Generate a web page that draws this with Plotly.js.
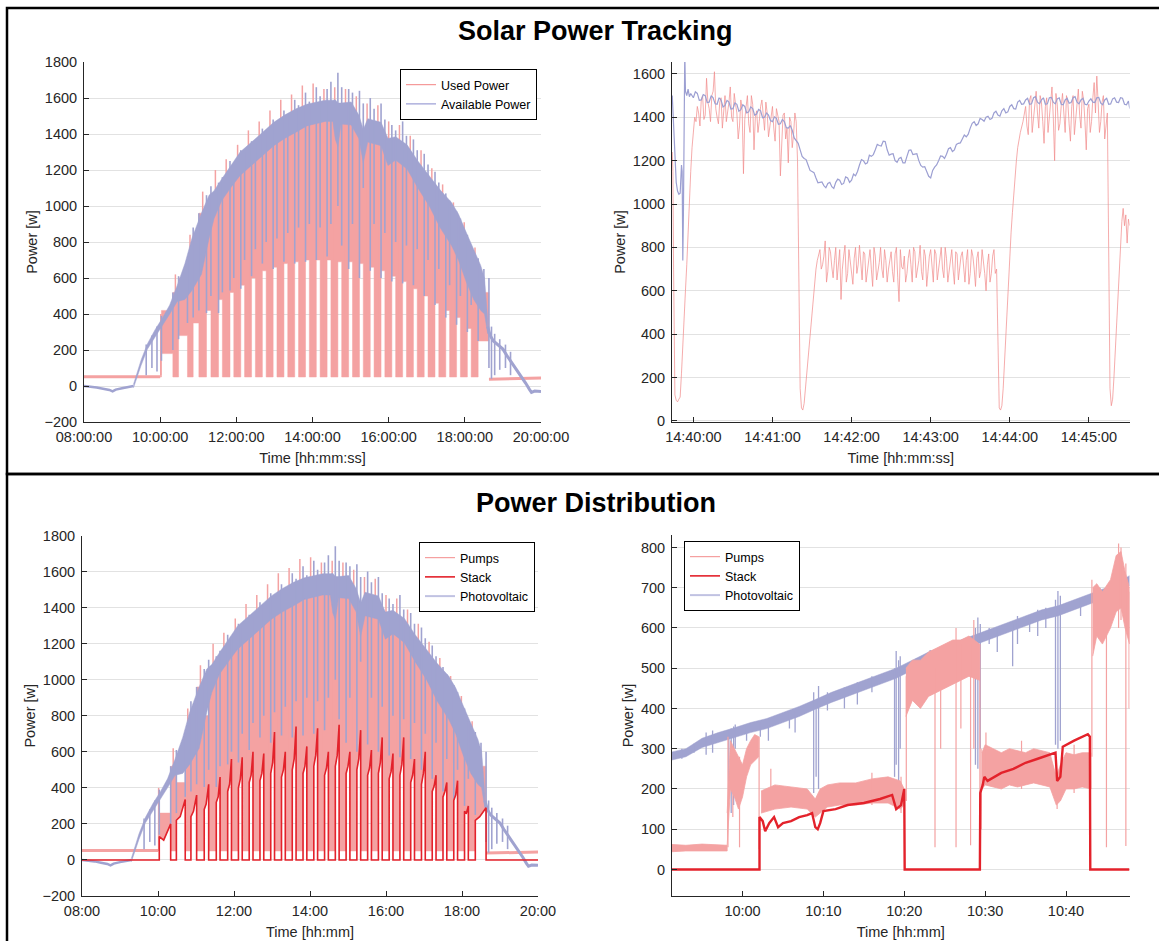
<!DOCTYPE html>
<html>
<head>
<meta charset="utf-8">
<script src="https://cdn.plot.ly/plotly-3.0.1.min.js"></script>
<style>
html,body{margin:0;padding:0;background:#ffffff;}
#chart{width:1159px;height:941px;}
</style>
</head>
<body>
<div id="chart"></div>
<script>
// ======================= DATA =======================
// ---- Panels 1 & 3 (whole day, 08:00 - 20:00) ----
const dayStart = '08:00', dayEnd = '20:00';
const pumpsActiveStart = '10:00';
const pumpFloorW = 50;
const pumpsIdleBefore = [['08:00', 52], ['10:00', 52]];
const pumpsIdleAfter = [['18:38', 38], ['20:00', 44]];

// stack on / knee / off times of every pump cycle
const cycOn  = ['10:02','10:29','10:52','11:13','11:32','11:50','12:07','12:24','12:41','12:58','13:15','13:32','13:49','14:06','14:23','14:40','14:57','15:14','15:31','15:48','16:05','16:22','16:39','16:56','17:13','17:30','17:47','18:04','18:21'];
const cycMid = ['10:09','10:35','10:56','11:16','11:35','11:53','12:10','12:27','12:44','13:01','13:18','13:35','13:52','14:09','14:26','14:43','15:00','15:17','15:34','15:51','16:08','16:25','16:42','16:59','17:16','17:33','17:50','18:07','18:28'];
const cycOff = ['10:20','10:43','11:01','11:20','11:38','11:56','12:13','12:30','12:47','13:04','13:21','13:38','13:55','14:12','14:29','14:46','15:03','15:20','15:37','15:54','16:11','16:28','16:45','17:02','17:19','17:36','17:53','18:10','18:38'];
// pump power tops in the pumping columns (before each stack-on) and during stack-on
const colTop     = [340,520,720,960,1070,1140,1220,1290,1350,1390,1430,1480,1510,1530,1540,1520,1540,1480,1420,1400,1320,1300,1260,1180,1090,1000,900,780,650];
const usedOnTop  = [420,600,850,1020,1100,1170,1250,1320,1370,1410,1450,1490,1520,1540,1540,1480,1520,1420,1420,1370,1310,1280,1220,1130,1050,960,850,720,520];
const usedGapTop = [180,280,350,420,480,520,560,600,640,660,680,690,700,700,700,690,690,680,660,640,610,580,540,500,460,420,380,320,250];
const pumpOnTop  = [260,430,600,800,1100,1170,1250,1320,1370,1410,1450,1490,1520,1540,1540,1480,1520,1420,1420,1370,1310,1280,1220,1130,1050,960,850,720,520];
// stack power: level at start, at knee, at end of each on-period
const stackStart = [130,220,240,280,320,380,400,430,440,480,460,500,480,520,470,520,480,500,470,480,450,470,430,420,380,350,330,270,220];
const stackMid   = [110,240,270,310,350,420,450,470,480,540,500,560,520,580,510,580,520,560,510,540,490,530,470,480,410,380,360,260,240];
const stackPeak  = [200,335,360,420,460,560,570,600,590,710,600,740,630,730,600,750,600,720,610,680,590,680,560,600,470,430,440,300,290];
// upward pump spikes (time, top)
const pumpSpikes = [['10:01',400],['10:24',620],['10:47',840],['11:07',1080],['11:27',1200],['11:44',1260],['12:02',1340],['12:19',1420],['12:36',1470],['12:53',1530],['13:10',1590],['13:27',1620],['13:44',1670],['14:01',1680],['14:18',1650],['14:35',1660],['14:52',1650],['15:09',1610],['15:26',1570],['15:43',1560],['16:00',1470],['16:17',1450],['16:34',1390],['16:51',1310],['17:08',1210],['17:25',1120],['17:42',1020],['17:59',910],['18:16',770]];
// photovoltaic / available power: band [time, low, high]
const pvBand = [['09:18',-10,10],['09:30',115,145],['09:40',205,235],['09:52',277,313],['10:04',340,380],['10:15',400,450],['10:27',470,560],['10:39',480,680],['10:50',530,820],['11:05',620,960],['11:17',820,1060],['11:25',930,1085],['11:37',1030,1150],['11:52',1105,1225],['12:06',1170,1300],['12:24',1225,1355],['12:41',1280,1410],['12:59',1335,1465],['13:16',1375,1505],['13:34',1410,1540],['13:51',1445,1565],['14:09',1460,1578],['14:20',1470,1588],['14:32',1470,1588],['14:36',1370,1590],['14:40',1330,1572],['14:45',1455,1572],['15:01',1450,1578],['15:13',1375,1505],['15:20',1240,1425],['15:27',1355,1485],['15:48',1335,1465],['15:59',1225,1375],['16:11',1255,1385],['16:29',1205,1340],['16:46',1100,1250],['17:04',1000,1170],['17:21',880,1090],['17:39',780,1020],['17:50',700,955],['18:02',580,855],['18:14',480,760],['18:25',420,670],['18:31',400,600],['18:36',290,370]];
const pvMorning = [['08:00',0],['08:10',-3],['08:20',-8],['08:30',-15],['08:40',-22],['08:45',-30],['08:50',-20],['09:00',-12],['09:10',-5],['09:18',0]];
const pvEvening = [['18:36',330],['18:40',280],['18:45',250],['18:50',235],['19:00',205],['19:06',170],['19:15',125],['19:22',90],['19:30',45],['19:36',15],['19:42',-20],['19:45',-35],['19:50',-28],['20:00',-30]];
// PV spikes [time, low, high]
const pvSpikes = [['09:38',60,230],['09:47',100,280],['09:55',80,330],['10:02',140,390],['10:20',200,520],['10:29',260,610],['10:43',350,700],['10:52',380,880],['11:01',420,960],['11:13',405,1060],['11:20',500,1110],['11:32',405,1130],['11:38',520,1160],['11:50',530,1250],['11:56',600,1240],['12:07',540,1310],['12:13',700,1300],['12:24',610,1360],['12:30',760,1350],['12:41',680,1430],['12:47',800,1420],['12:58',650,1480],['13:04',820,1460],['13:15',690,1530],['13:21',850,1510],['13:32',680,1590],['13:38',880,1560],['13:49',690,1630],['13:55',900,1580],['14:06',700,1660],['14:12',880,1610],['14:23',720,1650],['14:29',900,1690],['14:40',1000,1740],['14:46',780,1660],['14:57',650,1650],['15:03',900,1630],['15:14',600,1640],['15:20',1100,1570],['15:31',640,1600],['15:37',900,1540],['15:48',600,1570],['15:54',850,1480],['16:05',580,1450],['16:11',800,1420],['16:22',570,1470],['16:28',780,1390],['16:39',560,1370],['16:45',760,1310],['16:56',500,1290],['17:02',700,1230],['17:13',450,1190],['17:19',650,1130],['17:30',380,1070],['17:36',560,1030],['17:47',340,970],['17:53',500,930],['18:04',300,840],['18:10',450,770],['18:21',250,710],['18:30',480,650],['18:38',100,600],['18:42',40,330],['18:47',60,290],['18:55',90,260],['19:04',100,230],['19:12',60,190]];

// ---- Panel 2 (14:39:44 - 14:45:31), time in s after 14:40:00 ----
const zoomUsed = [[-16,1240],[-15.5,1150],[-15,700],[-14.5,300],[-14,120],[-13,95],[-12,88],[-11,100],[-10,110],[-9,220],[-8,370],[-7,480],[-6,600],[-5,720],[-4,880],[-3,1010],[-2,1150],[-1,1260],[0,1350],[1,1400],[2,1380],[3,1450],
[4,1420],[6,1480],[8,1390],[10,1580],[12,1440],[14,1500],[16,1610],[18,1400],[20,1470],[22,1350],[24,1500],[26,1420],[28,1540],[30,1380],[32,1460],[34,1300],[36,1480],[38,1140],[40,1450],[42,1370],[44,1500],[46,1250],[48,1430],[50,1380],[52,1480],[54,1340],[56,1420],[58,1360],[60,1450],[62,1290],[64,1400],[66,1130],[68,1410],[70,1300],[72,1190],[74,1380],[76,1320],[78,1380],
[79,1200],[80,700],[81,150],[82,60],[83,50],[84,80],[85,150],[86,230],[87,300],[88,380],[89,450],[90,520],[91,590],[92,650],[93,700],[94,740],[95,770],
[96,790],[98,720],[100,830],[102,690],[104,780],[106,660],[108,800],[110,720],[112,560],[114,760],[116,640],[118,790],[120,700],[122,750],[124,680],[126,810],[128,650],[130,770],[132,700],[134,790],[136,620],[138,760],[140,690],[142,800],[144,660],[146,740],[148,700],[150,780],[152,640],[154,800],[156,550],[158,710],[160,760],[162,680],[164,790],[166,640],[168,780],[170,700],[172,810],[174,650],[176,760],[178,690],[180,790],[182,640],[184,770],[186,700],[188,800],[190,660],[192,750],[194,690],[196,790],[198,630],[200,770],[202,700],[204,780],[206,640],[208,790],[210,680],[212,760],[214,620],[216,780],[218,690],[220,740],[222,600],[224,770],[226,680],[228,790],[230,700],
[231,300],[232,60],[233,50],[234,70],[235,150],[236,280],[237,400],[238,520],[239,630],[240,760],[241,870],[242,960],[243,1050],[244,1130],[245,1200],[246,1260],[247,1300],[248,1330],
[250,1380],[252,1450],[254,1320],[256,1500],[258,1400],[260,1520],[262,1350],[264,1470],[266,1280],[268,1490],[270,1390],[272,1540],[274,1200],[276,1460],[278,1370],[280,1510],[282,1330],[284,1470],[286,1290],[288,1500],[290,1400],[292,1530],[294,1350],[296,1480],[298,1250],[300,1460],[302,1380],[304,1560],[306,1590],[308,1330],[310,1470],[312,1300],[314,1420],
[315,800],[316,150],[317,70],[318,100],[319,200],[320,320],[321,430],[322,560],[323,690],[324,800],[325,920],[326,980],[327,900],[328,950],[329,820],[330,930],[331,900]];
// the in-between (odd second) samples of the noisy used power
const zoomUsedOdd = [[5,1360],[7,1500],[9,1410],[11,1470],[13,1380],[15,1520],[17,1440],[19,1370],[21,1490],[23,1420],[25,1380],[27,1470],[29,1400],[31,1510],[33,1420],[35,1360],[37,1440],[39,1390],[41,1500],[43,1330],[45,1460],[47,1400],[49,1330],[51,1450],[53,1390],[55,1470],[57,1310],[59,1400],[61,1350],[63,1440],[65,1380],[67,1300],[69,1420],[71,1350],[73,1400],[75,1260],[77,1420],
[97,700],[99,760],[101,640],[103,800],[105,710],[107,740],[109,650],[111,790],[113,700],[115,810],[117,680],[119,740],[121,630],[123,800],[125,720],[127,700],[129,780],[131,640],[133,740],[135,700],[137,800],[139,650],[141,730],[143,700],[145,790],[147,640],[149,750],[151,690],[153,770],[155,660],[157,790],[159,700],[161,640],[163,750],[165,720],[167,800],[169,660],[171,740],[173,690],[175,790],[177,620],[179,760],[181,700],[183,790],[185,650],[187,750],[189,700],[191,800],[193,640],[195,730],[197,700],[199,780],[201,650],[203,760],[205,690],[207,740],[209,630],[211,790],[213,700],[215,750],[217,660],[219,790],[221,680],[223,720],[225,640],[227,760],[229,680],
[251,1420],[253,1360],[255,1480],[257,1330],[259,1460],[261,1420],[263,1500],[265,1380],[267,1450],[269,1330],[271,1470],[273,1400],[275,1510],[277,1340],[279,1450],[281,1420],[283,1500],[285,1370],[287,1450],[289,1320],[291,1480],[293,1410],[295,1520],[297,1380],[299,1440],[301,1330],[303,1490],[305,1420],[307,1470],[309,1380],[311,1500],[313,1360]];
const zoomAvail = [[-16,1500],[-15.5,1420],[-15,1330],[-14,1200],[-13,1100],[-12,1060],[-11,1045],[-10,1050],[-9,1180],[-8.5,1150],[-8,740],[-7.5,980],[-7,1250],[-6.5,1700],[-6,1520],[-5,1500],[-4,1530],[-3,1495],[-2,1510],
[0,1490],[3,1510],[6,1480],[9,1500],[12,1470],[15,1490],[18,1460],[21,1480],[24,1455],[27,1470],[30,1440],[33,1460],[36,1435],[39,1450],[42,1425],[45,1440],[48,1415],[51,1430],[54,1400],[57,1410],[60,1380],[63,1395],[66,1370],[69,1380],[72,1350],[75,1340],[78,1290],[81,1250],[84,1210],[87,1180],[90,1150],[93,1120],[96,1100],[99,1085],[102,1095],[105,1080],[108,1100],[111,1110],[114,1095],[117,1120],[120,1110],[123,1130],[126,1180],[129,1200],[132,1190],[135,1220],[138,1250],[141,1270],[144,1290],[147,1250],[150,1230],[153,1200],[156,1210],[159,1190],[162,1220],[165,1250],[168,1230],[171,1200],[174,1170],[177,1150],[180,1120],[183,1170],[186,1200],[189,1220],[192,1230],[195,1260],[198,1250],[201,1280],[204,1300],[207,1310],[210,1350],[213,1380],[216,1370],[219,1390],[222,1400],[225,1390],[228,1420],[231,1410],[234,1430],[237,1420],[240,1450],[243,1440],[246,1470],[249,1460],[252,1480],[255,1460],[258,1490],[261,1470],[264,1480],[267,1460],[270,1490],[273,1470],[276,1485],[279,1460],[282,1480],[285,1465],[288,1490],[291,1470],[294,1480],[297,1460],[300,1475],[303,1470],[306,1490],[309,1465],[312,1480],[315,1460],[318,1485],[321,1470],[324,1490],[327,1460],[330,1475],[331,1440]];
const zoomAvailMid = [[1.5,1518],[4.5,1478],[7.5,1505],[10.5,1468],[13.5,1500],[16.5,1462],[19.5,1490],[22.5,1448],[25.5,1478],[28.5,1438],[31.5,1466],[34.5,1428],[37.5,1458],[40.5,1420],[43.5,1448],[46.5,1410],[49.5,1436],[52.5,1398],[55.5,1420],[58.5,1385],[61.5,1402],[64.5,1368],[67.5,1390],[70.5,1352],[73.5,1362],[76.5,1305],[79.5,1280],[82.5,1220],[85.5,1205],[88.5,1155],[91.5,1145],[94.5,1098],[97.5,1102],[100.5,1075],[103.5,1100],[106.5,1072],[109.5,1115],[112.5,1090],[115.5,1125],[118.5,1100],[121.5,1138],[124.5,1150],[127.5,1205],[130.5,1185],[133.5,1225],[136.5,1228],[139.5,1275],[142.5,1268],[145.5,1288],[148.5,1225],[151.5,1232],[154.5,1192],[157.5,1215],[160.5,1190],[163.5,1248],[166.5,1228],[169.5,1232],[172.5,1178],[175.5,1172],[178.5,1128],[181.5,1155],[184.5,1180],[187.5,1222],[190.5,1210],[193.5,1255],[196.5,1242],[199.5,1275],[202.5,1282],[205.5,1318],[208.5,1322],[211.5,1372],[214.5,1362],[217.5,1395],[220.5,1382],[223.5,1405],[226.5,1395],[229.5,1428],[232.5,1405],[235.5,1440],[238.5,1425],[241.5,1458],[244.5,1438],[247.5,1478],[250.5,1462],[253.5,1488],[256.5,1462],[259.5,1495],[262.5,1462],[265.5,1490],[268.5,1462],[271.5,1492],[274.5,1462],[277.5,1490],[280.5,1458],[283.5,1488],[286.5,1468],[289.5,1495],[292.5,1462],[295.5,1488],[298.5,1458],[301.5,1485],[304.5,1468],[307.5,1492],[310.5,1458],[313.5,1488],[316.5,1462],[319.5,1490],[322.5,1468],[325.5,1488],[328.5,1458]];

// ---- Panel 4 (09:51 - 10:48), time in min after 10:00 ----
const z4Pv = [[-8.72,272,292],[-7,280,300],[-5,303,326],[-3,315,340],[-1,328,352],[1,340,365],[3,350,375],[5,365,390],[7,380,405],[9,398,422],[11,415,440],[13,430,455],[15,445,470],[17,460,485],[19,475,500],[21,495,520],[23,515,540],[25,530,555],[27,545,570],[29,560,585],[31,575,600],[33,590,615],[35,605,630],[37,620,645],[39,630,655],[41,645,670],[43,660,685],[45,675,700],[47,695,720],[47.85,705,730]];
const z4PvSpikes = [[-7.5,275,300],[-6,290,312],[-4.5,285,340],[-3.7,290,345],[-1.7,175,345],[-1.4,140,350],[-1.1,160,355],[-0.9,300,360],[0.5,320,360],[2.2,330,365],[3.2,320,372],[5.8,350,392],[6.5,340,395],[8.8,190,440],[9.1,230,420],[9.4,200,456],[10.5,395,440],[12.6,400,452],[14.2,410,465],[16,440,480],[18.8,230,500],[19.0,260,543],[19.3,220,520],[19.5,300,530],[21.5,480,525],[23.2,500,545],[24.5,490,550],[25.6,515,560],[26.8,500,570],[28.8,260,600],[29.1,250,626],[29.4,300,610],[30.5,560,600],[31.5,540,600],[33.4,505,610],[34.0,560,630],[35.5,590,632],[36.5,580,645],[37.5,600,650],[38.7,310,670],[39.0,300,692],[39.3,320,680],[41.8,630,672],[44.2,640,700],[45.5,660,705],[46.5,670,712]];
const z4PumpsIdle   = [[-8.72,44,62],[-7,46,60],[-5,45,63],[-3,46,60],[-1.9,46,60]];
const z4PumpsRise   = [[-1.9,60,140],[-1.5,200,320],[-1.0,180,300],[-0.5,150,280],[0,180,260],[0.5,230,300],[1.0,260,320],[1.5,270,335],[2.0,280,330]];
const z4PumpsStack1 = [[2.3,140,195],[4,150,210],[6,155,205],[8,150,200],[9,130,175],[9.6,140,200],[10.5,155,210],[12,160,215],[14,160,215],[16,165,225],[18,165,230],[19.5,150,220],[20.0,160,200]];
const z4PumpsSolar1 = [[20.2,380,500],[21,420,520],[22,400,520],[23,430,540],[24,440,550],[25,450,560],[26,460,570],[27,470,570],[28,480,580],[29.3,470,560]];
const z4PumpsStack2 = [[29.6,200,290],[30,210,310],[31,205,300],[32,200,290],[33,210,300],[34,205,295],[35,210,290],[36,215,300],[37,210,295],[38,205,290],[38.8,160,230],[39.3,170,260],[40,200,290],[41,200,285],[42,205,290],[43.1,200,290]];
const z4PumpsSolar2 = [[43.3,530,700],[43.8,580,710],[44.5,560,690],[45.5,600,720],[46.2,640,780],[46.8,650,790],[47.3,600,740],[47.85,560,700]];
const z4PumpSpikes = [[-1.8,55,330],[-1.2,130,300],[-0.37,55,280],[2.05,50,330],[3.5,150,250],[16,160,240],[19.6,140,230],[20.25,170,480],[23.8,55,500],[24.5,300,520],[26.4,55,600],[27.0,350,560],[28.2,60,560],[28.6,300,620],[29.35,70,560],[29.5,100,300],[30.1,220,340],[34.5,200,320],[38.9,150,220],[41,190,310],[43.2,280,720],[45.0,55,700],[46.5,600,810],[46.8,620,800],[47.4,58,760],[47.8,400,690]];
const z4Stack = [[-8.72,0],[2.1,0],[2.1,130],[2.5,120],[2.8,95],[3.3,115],[3.9,130],[4.4,105],[5,115],[6,120],[7,130],[8,135],[8.6,140],[9.0,105],[9.3,100],[9.6,115],[10.0,145],[11.5,150],[13,160],[15,165],[17,175],[18.5,185],[19.0,150],[19.6,160],[20.0,200],[20.05,0],[29.35,0],[29.4,190],[29.7,210],[29.9,230],[30.3,220],[32,240],[33.5,250],[35,265],[36.5,275],[38,285],[38.7,290],[38.9,220],[39.3,230],[39.6,305],[41,320],[42.7,336],[42.95,330],[43.0,0],[47.85,0]];

// ---- texts ----
const titles = ['Solar Power Tracking', 'Power Distribution'];
const xTitles = ['Time [hh:mm:ss]', 'Time [hh:mm:ss]', 'Time [hh:mm]', 'Time [hh:mm]'];
const yTitle = 'Power [w]';
const legendNames1 = ['Used Power', 'Available Power'];
const legendNames2 = ['Pumps', 'Stack', 'Photovoltaic'];

// ======================= HELPERS =======================
const DAY = '2020-01-01 ';
function clock(sec) {
  const ms = Math.round(sec * 1000);
  const h = Math.floor(ms / 3600000), m = Math.floor((ms % 3600000) / 60000);
  const s = Math.floor((ms % 60000) / 1000), f = ms % 1000;
  const p = (n, w) => String(n).padStart(w || 2, '0');
  return DAY + p(h) + ':' + p(m) + ':' + p(s) + '.' + p(f, 3);
}
const hm = str => { const a = str.split(':').map(Number); return clock(a[0] * 3600 + a[1] * 60 + (a[2] || 0)); };
const z2 = s => clock(14 * 3600 + 40 * 60 + s);
const z4 = m => clock(10 * 3600 + m * 60);

function spikes(list, toX) {
  const x = [], y = [];
  list.forEach(([t, lo, hi]) => { x.push(toX(t), toX(t), null); y.push(lo, hi, null); });
  return { x, y };
}
function bands(lists, toX) {
  const x = [], y = [];
  lists.forEach((list, i) => {
    if (i > 0) { x.push(null); y.push(null); }
    list.forEach(([t, lo, hi]) => { x.push(toX(t)); y.push(hi); });
    for (let k = list.length - 1; k >= 0; k--) { x.push(toX(list[k][0])); y.push(list[k][1]); }
  });
  return { x, y };
}
function series(list, toX) { return { x: list.map(p => toX(p[0])), y: list.map(p => p[1]) }; }
const merged = (a, b) => a.concat(b).sort((p, q) => p[0] - q[0]);
// pump area: columns (floor -> colTop) alternating with stack-on periods (bottom -> onTop)
function pumpArea(onTop, onBottom) {
  const per = [];
  for (let k = 0; k < cycOn.length; k++) {
    per.push({ s: k === 0 ? pumpsActiveStart : cycOff[k - 1], e: cycOn[k], top: colTop[k], col: true, k });
    per.push({ s: cycOn[k], e: cycOff[k], top: onTop[k], col: false, k });
  }
  const x = [], y = [];
  per.forEach(p => { x.push(hm(p.s), hm(p.e)); y.push(p.top, p.top); });
  for (let i = per.length - 1; i >= 0; i--) {
    const p = per[i];
    if (p.col) { x.push(hm(p.e), hm(p.s)); y.push(pumpFloorW, pumpFloorW); }
    else { const b = onBottom(p.k); b.forEach(q => { x.push(hm(q[0])); y.push(q[1]); }); }
  }
  return { x, y };
}

const PINK = '#f4a2a2', LAV = '#a0a3d0', RED = '#e3222b', PINK_LINE = 'rgba(241,140,140,0.8)';

// ======================= TRACES =======================
const traces = [];
function add(o) { traces.push(Object.assign({ type: 'scatter', mode: 'lines', hoverinfo: 'skip', showlegend: false }, o)); }

function dayPanel(xa, ya, pumpPoly, withStack) {
  add(Object.assign(series(pumpsIdleBefore, hm), { xaxis: xa, yaxis: ya, line: { color: PINK, width: 3 } }));
  add(Object.assign(series(pumpsIdleAfter, hm), { xaxis: xa, yaxis: ya, line: { color: PINK, width: 3 } }));
  add(Object.assign(pumpPoly, { xaxis: xa, yaxis: ya, fill: 'toself', fillcolor: PINK, line: { color: PINK, width: 0.5 } }));
  add(Object.assign(spikes(pumpSpikes.map(p => [p[0], 60, p[1]]), hm), { xaxis: xa, yaxis: ya, line: { color: PINK, width: 1.5 } }));
  add(Object.assign(bands([pvBand], hm), { xaxis: xa, yaxis: ya, fill: 'toself', fillcolor: LAV, line: { color: LAV, width: 0.5 } }));
  add(Object.assign(series(pvMorning, hm), { xaxis: xa, yaxis: ya, line: { color: LAV, width: 2.5 } }));
  add(Object.assign(series(pvEvening, hm), { xaxis: xa, yaxis: ya, line: { color: LAV, width: 3 } }));
  add(Object.assign(spikes(pvSpikes, hm), { xaxis: xa, yaxis: ya, line: { color: LAV, width: 1.6 } }));
  if (withStack) {
    const x = [hm(dayStart)], y = [0];
    for (let k = 0; k < cycOn.length; k++) {
      x.push(hm(cycOn[k]), hm(cycOn[k]), hm(cycMid[k]), hm(cycOff[k]), hm(cycOff[k]));
      y.push(0, stackStart[k], stackMid[k], stackPeak[k], 0);
    }
    x.push(hm(dayEnd)); y.push(0);
    add({ x, y, xaxis: xa, yaxis: ya, line: { color: RED, width: 1.6 } });
  }
}

// Panel 1
dayPanel('x', 'y', pumpArea(usedOnTop, k => [[cycOff[k], usedGapTop[k]], [cycOn[k], usedGapTop[k]]]), false);
add({ x: [null], y: [null], xaxis: 'x', yaxis: 'y', name: legendNames1[0], showlegend: true, legend: 'legend', line: { color: '#f59a9a', width: 1.2 } });
add({ x: [null], y: [null], xaxis: 'x', yaxis: 'y', name: legendNames1[1], showlegend: true, legend: 'legend', line: { color: '#9a9dd4', width: 1.2 } });

// Panel 2
add(Object.assign(series(merged(zoomUsed, zoomUsedOdd), z2), { xaxis: 'x2', yaxis: 'y2', line: { color: PINK_LINE, width: 0.9 } }));
add(Object.assign(series(merged(zoomAvail, zoomAvailMid), z2), { xaxis: 'x2', yaxis: 'y2', line: { color: '#9c9fd2', width: 1.2 } }));

// Panel 3
dayPanel('x3', 'y3', pumpArea(pumpOnTop, k => [[cycOff[k], stackPeak[k]], [cycMid[k], stackMid[k]], [cycOn[k], stackStart[k]]]), true);
add({ x: [null], y: [null], xaxis: 'x3', yaxis: 'y3', name: legendNames2[0], showlegend: true, legend: 'legend2', line: { color: '#f5a0a0', width: 1.2 } });
add({ x: [null], y: [null], xaxis: 'x3', yaxis: 'y3', name: legendNames2[1], showlegend: true, legend: 'legend2', line: { color: RED, width: 1.6 } });
add({ x: [null], y: [null], xaxis: 'x3', yaxis: 'y3', name: legendNames2[2], showlegend: true, legend: 'legend2', line: { color: '#c0c2e2', width: 2 } });

// Panel 4
add(Object.assign(bands([z4Pv], z4), { xaxis: 'x4', yaxis: 'y4', fill: 'toself', fillcolor: LAV, line: { color: LAV, width: 0.5 } }));
add(Object.assign(spikes(z4PvSpikes, z4), { xaxis: 'x4', yaxis: 'y4', line: { color: LAV, width: 1.3 } }));
add(Object.assign(bands([z4PumpsIdle, z4PumpsRise, z4PumpsStack1, z4PumpsSolar1, z4PumpsStack2, z4PumpsSolar2], z4), { xaxis: 'x4', yaxis: 'y4', fill: 'toself', fillcolor: PINK, line: { color: PINK, width: 0.8 } }));
add(Object.assign(spikes(z4PumpSpikes, z4), { xaxis: 'x4', yaxis: 'y4', line: { color: PINK, width: 1.2 } }));
add(Object.assign(series(z4Stack, z4), { xaxis: 'x4', yaxis: 'y4', line: { color: RED, width: 2.4 } }));
add({ x: [null], y: [null], xaxis: 'x4', yaxis: 'y4', name: legendNames2[0], showlegend: true, legend: 'legend3', line: { color: '#f5a0a0', width: 1.2 } });
add({ x: [null], y: [null], xaxis: 'x4', yaxis: 'y4', name: legendNames2[1], showlegend: true, legend: 'legend3', line: { color: RED, width: 1.6 } });
add({ x: [null], y: [null], xaxis: 'x4', yaxis: 'y4', name: legendNames2[2], showlegend: true, legend: 'legend3', line: { color: '#c0c2e2', width: 2 } });

// ======================= LAYOUT =======================
const W = 1159, H = 941;
const px = v => v / W, py = v => 1 - v / H;
const FONT = 'Liberation Sans, Arial, Helvetica, sans-serif';
const INK = '#262626';
function xax(dom, range, dtick, fmt, title, anchor) {
  return { domain: dom, anchor, type: 'date', range, dtick, tickformat: fmt, showgrid: false, zeroline: false,
    showline: true, linecolor: INK, linewidth: 1, ticks: 'inside', ticklen: 5, tickcolor: INK,
    tickfont: { family: FONT, size: 14.5, color: INK }, ticklabelstandoff: 2,
    title: { text: title, standoff: 8, font: { family: FONT, size: 14.5, color: INK } }, fixedrange: true };
}
function yax(dom, range, dtick, anchor) {
  return { domain: dom, anchor, range, dtick, showgrid: true, gridcolor: '#e2e2e2', gridwidth: 1, zeroline: false,
    showline: true, linecolor: INK, linewidth: 1, ticks: 'inside', ticklen: 5, tickcolor: INK,
    tickfont: { family: FONT, size: 14.5, color: INK }, ticklabelstandoff: 3,
    title: { text: yTitle, standoff: 3, font: { family: FONT, size: 14.5, color: INK } }, fixedrange: true };
}
const legendBase = { bgcolor: '#ffffff', bordercolor: '#000000', borderwidth: 1, font: { family: FONT, size: 12.5, color: '#000' }, itemwidth: 30, tracegroupgap: 0 };

const layout = {
  width: W, height: H, margin: { l: 0, r: 0, t: 0, b: 0 }, paper_bgcolor: '#fff', plot_bgcolor: '#fff',
  font: { family: FONT, size: 14.5, color: INK }, showlegend: true, hovermode: false,
  xaxis:  xax([px(84), px(541)], [hm(dayStart), hm(dayEnd)], 7200000, '%H:%M:%S', xTitles[0], 'y'),
  yaxis:  yax([py(422), py(62)], [-200, 1800], 200, 'x'),
  xaxis2: xax([px(672), px(1129.5)], [z2(-16.2), z2(330.8)], 60000, '%H:%M:%S', xTitles[1], 'y2'),
  yaxis2: yax([py(422), py(62)], [-5, 1655], 200, 'x2'),
  xaxis3: xax([px(82), px(538)], [hm(dayStart), hm(dayEnd)], 7200000, '%H:%M', xTitles[2], 'y3'),
  yaxis3: yax([py(896), py(535.5)], [-200, 1800], 200, 'x3'),
  xaxis4: xax([px(672), px(1129.5)], [z4(-8.72), z4(47.85)], 600000, '%H:%M', xTitles[3], 'y4'),
  yaxis4: yax([py(896), py(535)], [-66, 831], 100, 'x4'),
  legend:  Object.assign({ x: px(537), xanchor: 'right', y: py(69), yanchor: 'top' }, legendBase),
  legend2: Object.assign({ x: px(535), xanchor: 'right', y: py(542), yanchor: 'top' }, legendBase),
  legend3: Object.assign({ x: px(684), xanchor: 'left', y: py(541), yanchor: 'top' }, legendBase),
  annotations: [
    { text: '<b>' + titles[0] + '</b>', xref: 'paper', yref: 'paper', x: px(595.5), y: py(31), xanchor: 'center', yanchor: 'middle', showarrow: false, font: { family: FONT, size: 27, color: '#000' } },
    { text: '<b>' + titles[1] + '</b>', xref: 'paper', yref: 'paper', x: px(596), y: py(503), xanchor: 'center', yanchor: 'middle', showarrow: false, font: { family: FONT, size: 27, color: '#000' } }
  ],
  shapes: [
    { type: 'rect', xref: 'paper', yref: 'paper', x0: px(7), x1: 1.02, y0: py(474), y1: py(8), line: { color: '#000', width: 2.5 }, fillcolor: 'rgba(0,0,0,0)' },
    { type: 'rect', xref: 'paper', yref: 'paper', x0: px(7), x1: 1.02, y0: -0.05, y1: py(474), line: { color: '#000', width: 2.5 }, fillcolor: 'rgba(0,0,0,0)' }
  ]
};

Plotly.newPlot('chart', traces, layout, { staticPlot: true, displayModeBar: false });
</script>
</body>
</html>
